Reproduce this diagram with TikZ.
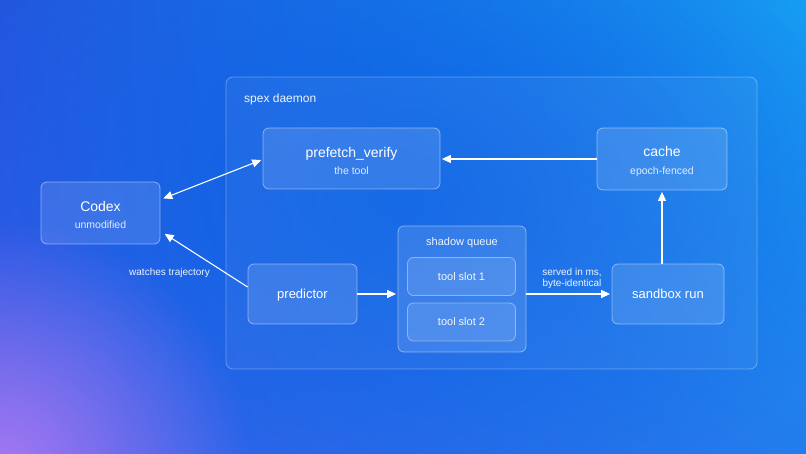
\documentclass[tikz,border=0pt]{standalone}
\usepackage{fontspec}
\setmainfont{Liberation Sans}
\usetikzlibrary{arrows.meta,fadings,calc,shadings}
\tikzfading[name=glowfade, inner color=transparent!0, outer color=transparent!100]
\definecolor{bgUL}{RGB}{34,86,222}
\definecolor{bgUR}{RGB}{22,156,242}
\definecolor{bgLL}{RGB}{58,92,232}
\definecolor{bgLR}{RGB}{34,124,236}
\definecolor{bgDeep}{RGB}{6,96,228}
\definecolor{bgPurple}{RGB}{172,122,242}
\tikzset{
  box/.style={draw=white, draw opacity=0.45, fill=white, fill opacity=0.12,
    rounded corners=6pt, line width=0.8pt, inner sep=0pt},
  container/.style={draw=white, draw opacity=0.32, fill=white, fill opacity=0.05,
    rounded corners=7pt, line width=0.8pt, inner sep=0pt},
  slotbox/.style={box, fill opacity=0.10, draw opacity=0.4},
  titletext/.style={text=white, font=\fontsize{14}{16}\selectfont, inner sep=0pt, anchor=base},
  midtext/.style={text=white, font=\fontsize{13}{15}\selectfont, inner sep=0pt, anchor=base},
  subtext/.style={text=white, text opacity=0.85, font=\fontsize{10.5}{12}\selectfont, inner sep=0pt, anchor=base},
  smalltext/.style={text=white, text opacity=0.92, font=\fontsize{11}{13}\selectfont, inner sep=0pt, anchor=base},
  edgetext/.style={text=white, text opacity=0.92, font=\fontsize{10}{12}\selectfont, inner sep=0pt, anchor=base},
  arr/.style={draw=white, line width=1.1pt, -{Triangle[length=9pt,width=8pt]}, shorten >=1.5pt},
  biarr/.style={draw=white, line width=1.1pt, {Triangle[length=9pt,width=8pt]}-{Triangle[length=9pt,width=8pt]}, shorten >=1.5pt, shorten <=1.5pt},
}
\begin{document}
\begin{tikzpicture}[x=1pt,y=-1pt]
\useasboundingbox (0,0) rectangle (806,454);
% background
\shade[upper left=bgUL, upper right=bgUR, lower left=bgLL, lower right=bgLR] (0,0) rectangle (806,454);
\begin{scope}
  \clip (0,0) rectangle (806,454);
  \fill[bgDeep, path fading=glowfade, fill opacity=0.85] (400,200) ellipse (480 and 330);
  \fill[bgPurple, path fading=glowfade, fill opacity=0.95] (0,470) circle (250);
\end{scope}

% container
\node[container, minimum width=531pt, minimum height=292pt] (daemon) at (491.5,223) {};
\node[smalltext, anchor=base west, font=\fontsize{12}{14}\selectfont] (daemonlabel) at (244,103) {spex daemon};

% nodes
\node[box, minimum width=119pt, minimum height=62pt] (codex) at (100.5,213) {};
\node[titletext] (codext) at (100.5,212) {Codex};
\node[subtext] (codexs) at (100.5,228.5) {unmodified};

\node[box, minimum width=177pt, minimum height=61pt] (prefetch) at (351.5,158.5) {};
\node[titletext] (prefetcht) at (351.5,157.5) {prefetch\_verify};
\node[subtext] (prefetchs) at (351.5,174.5) {the tool};

\node[box, minimum width=130pt, minimum height=62pt] (cache) at (662,159) {};
\node[titletext] (cachet) at (662,156.7) {cache};
\node[subtext] (caches) at (662,174.7) {epoch-fenced};

\node[box, minimum width=109pt, minimum height=60pt] (predictor) at (302.5,294) {};
\node[midtext] (predictort) at (302.5,299) {predictor};

\node[box, minimum width=128pt, minimum height=126pt] (queue) at (462,289) {};
\node[smalltext] (queuet) at (462,246) {shadow queue};
\node[slotbox, minimum width=108pt, minimum height=38pt] (slot1) at (461.5,276.5) {};
\node[smalltext] (slot1t) at (461.5,281) {tool slot 1};
\node[slotbox, minimum width=108pt, minimum height=38pt] (slot2) at (461.5,322) {};
\node[smalltext] (slot2t) at (461.5,326) {tool slot 2};

\node[box, minimum width=112pt, minimum height=60pt] (sandbox) at (668,294) {};
\node[midtext] (sandboxt) at (668,299) {sandbox run};

% connectors
\draw[biarr] ($(codex.east)+(1.5,-14)$) -- ($(prefetch.west)+(0,1)$);
\draw[arr] ($(predictor.west)+(0,-7)$) -- ($(codex.east)+(3,20)$);
\node[edgetext] (watchlabel) at (169.5,275.5) {watches trajectory};
\draw[arr] (cache.west |- 0,159) -- (prefetch.east |- 0,159);
\draw[arr] (predictor.east) -- (predictor.east -| queue.west);
\draw[arr] (queue.east |- predictor.east) -- (sandbox.west);
\node[edgetext] (servedA) at (572,276) {served in ms,};
\node[edgetext] (servedB) at (572,286.5) {byte-identical};
\draw[arr] (sandbox.north -| cache.south) -- (cache.south);
\end{tikzpicture}
\end{document}
